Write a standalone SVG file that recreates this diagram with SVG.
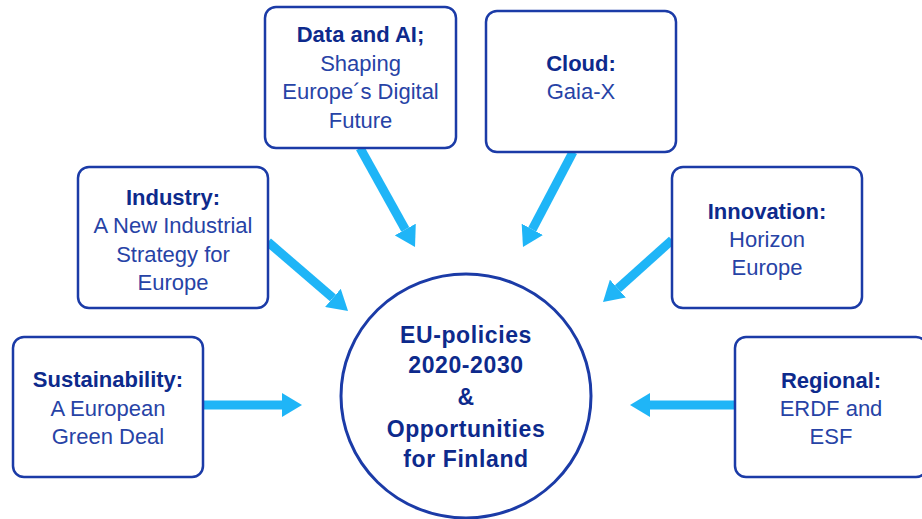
<svg xmlns="http://www.w3.org/2000/svg" width="922" height="519" viewBox="0 0 922 519">
<style>
.box{fill:#fff;stroke:#1b3ba7;stroke-width:2.5}
.hub{fill:#fff;stroke:#1b3ba7;stroke-width:3}
text{font-family:"Liberation Sans",Arial,sans-serif;font-size:22px;text-anchor:middle}
.b{font-weight:bold;fill:#0d2a8c}
.r{fill:#2743a6}
.c{font-weight:bold;fill:#0d2a8c;font-size:23px;letter-spacing:0.6px}
.arr{stroke:#1fb5f7;stroke-width:9;fill:none;marker-end:url(#head)}
</style>
<defs>
<marker id="head" viewBox="0 0 20 24" refX="0" refY="12" markerWidth="20" markerHeight="24" markerUnits="userSpaceOnUse" orient="auto">
<path d="M0,0 L20,12 L0,24 z" fill="#1fb5f7"/>
</marker>
</defs>
<g id="connectors">
<line class="arr" x1="360" y1="148" x2="405.3" y2="229.5"/>
<line class="arr" x1="573" y1="152" x2="532.3" y2="229.3"/>
<line class="arr" x1="268" y1="242" x2="332.9" y2="297.9"/>
<line class="arr" x1="203" y1="405" x2="282" y2="405"/>
<line class="arr" x1="672" y1="240" x2="617.9" y2="288.6"/>
<line class="arr" x1="735" y1="405" x2="650" y2="405"/>
</g>
<g id="data">
<rect class="box" x="265" y="7" width="191" height="141" rx="11"/>
<text class="b" x="360.5" y="42">Data and AI;</text>
<text class="r" x="360.5" y="71">Shaping</text>
<text class="r" x="360.5" y="99">Europe´s Digital</text>
<text class="r" x="360.5" y="128">Future</text>
</g>
<g id="cloud">
<rect class="box" x="486" y="11" width="190" height="141" rx="11"/>
<text class="b" x="581" y="71">Cloud:</text>
<text class="r" x="581" y="99">Gaia-X</text>
</g>
<g id="industry">
<rect class="box" x="78" y="167" width="190" height="141" rx="11"/>
<text class="b" x="173" y="205">Industry:</text>
<text class="r" x="173" y="233">A New Industrial</text>
<text class="r" x="173" y="262">Strategy for</text>
<text class="r" x="173" y="290">Europe</text>
</g>
<g id="sustainability">
<rect class="box" x="13" y="337" width="190" height="140" rx="11"/>
<text class="b" x="108" y="387">Sustainability:</text>
<text class="r" x="108" y="416">A European</text>
<text class="r" x="108" y="444">Green Deal</text>
</g>
<g id="innovation">
<rect class="box" x="672" y="167" width="190" height="141" rx="11"/>
<text class="b" x="767" y="219">Innovation:</text>
<text class="r" x="767" y="247">Horizon</text>
<text class="r" x="767" y="275">Europe</text>
</g>
<g id="regional">
<rect class="box" x="735" y="337" width="192" height="140" rx="11"/>
<text class="b" x="831" y="388">Regional:</text>
<text class="r" x="831" y="416">ERDF and</text>
<text class="r" x="831" y="444">ESF</text>
</g>
<g id="hub">
<ellipse class="hub" cx="466" cy="396" rx="125" ry="122"/>
<text class="c" x="466" y="343">EU-policies</text>
<text class="c" x="466" y="373">2020-2030</text>
<text class="c" x="466" y="405">&amp;</text>
<text class="c" x="466" y="437">Opportunities</text>
<text class="c" x="466" y="467">for Finland</text>
</g>
</svg>
